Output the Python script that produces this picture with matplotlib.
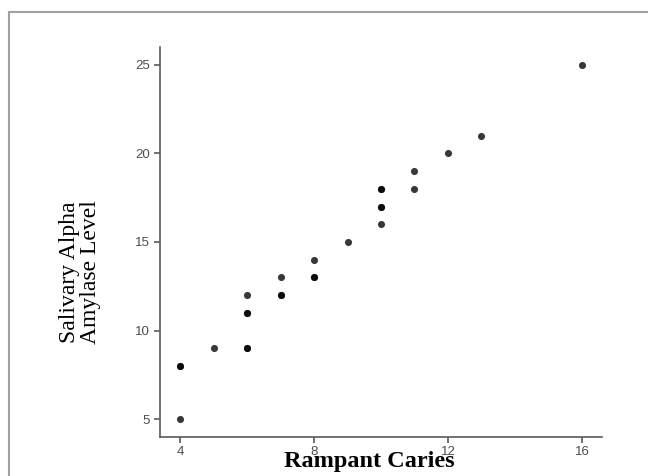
import matplotlib
matplotlib.use('Agg')
import matplotlib.pyplot as plt
import matplotlib.patches as mpatches

# Rampant caries score vs salivary alpha amylase level
caries = [4, 4, 4, 5, 6, 6, 6, 6, 6, 7, 7, 7, 8, 8, 8, 9, 10, 10, 10, 10, 10, 11, 11, 12, 13, 16]
amylase = [5, 8, 8, 9, 9, 9, 11, 11, 12, 12, 12, 13, 13, 13, 14, 15, 16, 17, 17, 18, 18, 18, 19, 20, 21, 25]

x_ticks = [4, 8, 12, 16]
y_ticks = [5, 10, 15, 20, 25]

W, H = 648, 476
fig = plt.figure(figsize=(W / 100, H / 100), dpi=100)

# grey frame around the figure (runs off right/bottom edge)
frame = mpatches.Rectangle((9 / W, -0.05), 1.1, 1 - 12 / H + 0.05,
                           transform=fig.transFigure, fill=False,
                           edgecolor='#a0a0a0', linewidth=1.5)
fig.patches.append(frame)

ax = fig.add_axes([160 / W, 1 - 437 / H, (602 - 160) / W, (437 - 47) / H])
ax.scatter(caries, amylase, s=26, c='black', alpha=0.78, linewidths=0, zorder=3)

ax.set_xlim(3.4, 16.6)
ax.set_ylim(4, 26)
ax.set_xticks(x_ticks)
ax.set_yticks(y_ticks)

for side in ['top', 'right']:
    ax.spines[side].set_visible(False)
for side in ['left', 'bottom']:
    ax.spines[side].set_color('#5a5a5a')
    ax.spines[side].set_linewidth(1.2)

ax.tick_params(axis='both', colors='#5a5a5a', length=4, width=1.2,
               labelsize=9.5, labelcolor='#4d4d4d')
ax.tick_params(axis='x', pad=2.5)
ax.tick_params(axis='y', pad=3)
for lab in ax.get_xticklabels() + ax.get_yticklabels():
    lab.set_family('Liberation Sans')

# axis titles placed by figure coordinates
fig.text(369 / W, 1 - 467 / H, 'Rampant Caries', ha='center', va='baseline',
         family='Liberation Serif', fontweight='bold', fontsize=17.5)
fig.text(80 / W, 1 - 272 / H, 'Salivary Alpha\nAmylase Level', ha='center', va='center',
         rotation=90, family='Liberation Serif', fontsize=17, linespacing=1.05)

fig.savefig('out.png', dpi=100)
